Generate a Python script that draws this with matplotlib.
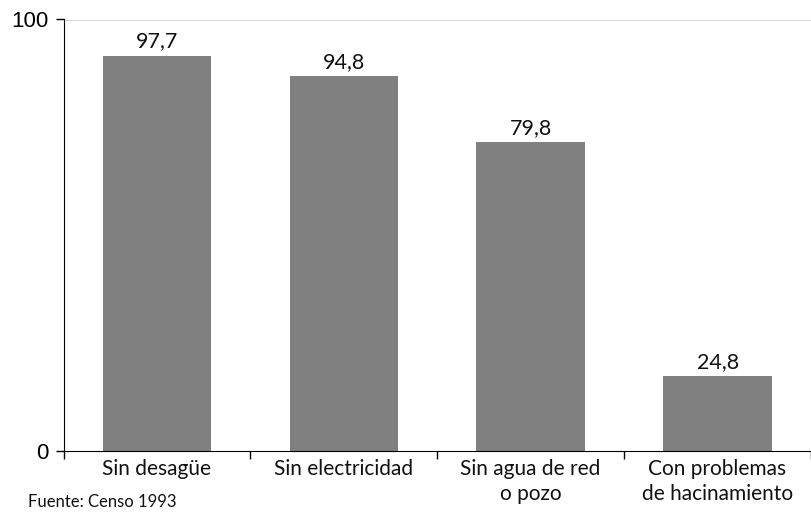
import matplotlib.pyplot as plt

# Data
categories = ["Sin desagüe", "Sin electricidad", "Sin agua de red\no pozo",
              "Con problemas\nde hacinamiento"]
bar_heights = [91.6, 86.8, 71.5, 17.3]   # bar tops as drawn against the 0-100 axis
value_labels = ["97,7", "94,8", "79,8", "24,8"]
y_ticks = [0, 100]
source = "Fuente: Censo 1993"

plt.rcParams['font.family'] = ['Lato', 'DejaVu Sans']

fig = plt.figure(figsize=(8.11, 5.12), dpi=100)
ax = fig.add_axes([63.5 / 811, 61.3 / 512, 1 - 63.5 / 811, (450.7 - 19.5) / 512])

x = list(range(len(categories)))
bars = ax.bar(x, bar_heights, width=0.58, color="#808080", zorder=2)

for rect, lab in zip(bars, value_labels):
    ax.annotate(lab, (rect.get_x() + rect.get_width() / 2, rect.get_height()),
                xytext=(0, 3), textcoords="offset points",
                ha="center", va="bottom", fontsize=15.5, color="#111111")

ax.set_xlim(-0.5, 3.45)
ax.set_ylim(0, 100)

# Category boundaries as ticks, names at bar centers
ax.set_xticks([-0.5, 0.5, 1.5, 2.5, 3.5])
ax.set_xticklabels([])
ax.tick_params(axis='x', direction='out', length=6, width=1, color="black")
for xi, name in zip(x, categories):
    ax.text(xi, -2.0, name, ha="center", va="top", fontsize=15, color="#111111",
            linespacing=1.3)

ax.set_yticks(y_ticks)
ax.set_yticklabels([str(t) for t in y_ticks], family="Liberation Sans", fontsize=16)
ax.tick_params(axis='y', direction='out', length=6, width=1, pad=5)

ax.axhline(100, color="#444444", linewidth=1, zorder=1)
ax.spines['top'].set_visible(False)
ax.spines['right'].set_visible(False)

fig.text(28 / 811, 1 - 494 / 512, source, ha="left", va="top", fontsize=12,
         color="#111111")

fig.savefig("out.png", dpi=100)
